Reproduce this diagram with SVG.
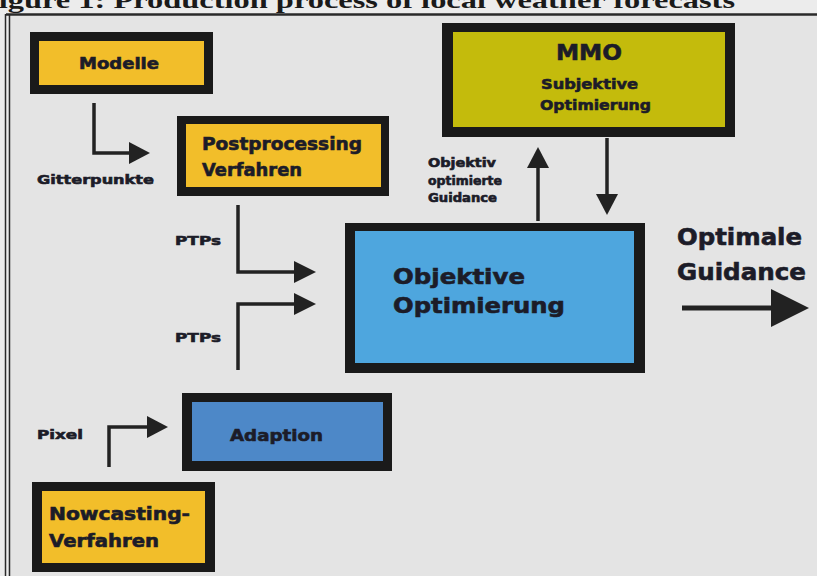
<svg xmlns="http://www.w3.org/2000/svg" width="817" height="576" viewBox="0 0 817 576">
  <defs>
    <style>
      .lbl { font-family: "DejaVu Sans", "Liberation Sans", Arial, sans-serif; font-weight: bold; fill: #1c1c28; stroke: #1c1c28; stroke-width: 0.6; }
      .frame { fill: #1a1a1a; }
      .wire { fill: none; stroke: #222; stroke-width: 3.5; }
      .head { fill: #222; }
      .yellow { fill: #f2be2a; }
      .olive { fill: #c4bb0c; }
      .sky { fill: #4ea6de; }
      .steel { fill: #4d88c8; }
    </style>
  </defs>

  <!-- page background -->
  <rect x="0" y="0" width="817" height="576" fill="#ececec"/>
  <rect x="8" y="15" width="809" height="561" fill="#e4e4e4"/>

  <!-- caption, cut at the top edge -->
  <text x="-21" y="8" font-family="'Liberation Serif', 'Times New Roman', serif" font-weight="bold" font-size="24" fill="#1a1a1a" textLength="756" lengthAdjust="spacingAndGlyphs">Figure 1: Production process of local weather forecasts</text>

  <!-- border lines -->
  <line x1="6" y1="14.5" x2="817" y2="14.5" stroke="#2a2a2a" stroke-width="2.5"/>
  <line x1="5.5" y1="14" x2="5.5" y2="576" stroke="#2a2a2a" stroke-width="1.5"/>
  <line x1="9.5" y1="14" x2="9.5" y2="576" stroke="#2a2a2a" stroke-width="1.5"/>

  <!-- connectors -->
  <g id="connectors">
    <!-- Modelle to Postprocessing -->
    <polyline class="wire" points="94,103 94,153 132,153"/>
    <polygon class="head" points="129,142 150,153 129,164"/>
    <!-- Postprocessing to Objektive Optimierung -->
    <polyline class="wire" points="238,205 238,272 296,272"/>
    <polygon class="head" points="294,261 316,272 294,283"/>
    <!-- Adaption to Objektive Optimierung -->
    <polyline class="wire" points="238,370 238,304 296,304"/>
    <polygon class="head" points="294,293 316,304 294,315"/>
    <!-- Nowcasting to Adaption -->
    <polyline class="wire" points="109,467 109,427 150,427"/>
    <polygon class="head" points="147,416 168,427 147,438"/>
    <!-- Objektive Optimierung up to MMO -->
    <line class="wire" x1="538" y1="221" x2="538" y2="165"/>
    <polygon class="head" points="527,168 538,147 549,168"/>
    <!-- MMO down to Objektive Optimierung -->
    <line class="wire" x1="607" y1="138" x2="607" y2="197"/>
    <polygon class="head" points="596,194 607,215 618,194"/>
    <!-- final output -->
    <line x1="682" y1="308" x2="776" y2="308" stroke="#222" stroke-width="5"/>
    <polygon class="head" points="771,289 809,308 771,327"/>
  </g>

  <!-- edge labels -->
  <g id="edge-labels">
    <text class="lbl" x="37" y="184" font-size="12.5" textLength="117" lengthAdjust="spacingAndGlyphs">Gitterpunkte</text>
    <text class="lbl" x="175" y="245" font-size="12.5" textLength="46" lengthAdjust="spacingAndGlyphs">PTPs</text>
    <text class="lbl" x="175" y="342" font-size="12.5" textLength="46" lengthAdjust="spacingAndGlyphs">PTPs</text>
    <text class="lbl" x="37" y="439" font-size="12.5" textLength="46" lengthAdjust="spacingAndGlyphs">Pixel</text>
    <text class="lbl" x="428" y="167" font-size="11.5" textLength="68" lengthAdjust="spacingAndGlyphs">Objektiv</text>
    <text class="lbl" x="428" y="185" font-size="11.5" textLength="74" lengthAdjust="spacingAndGlyphs">optimierte</text>
    <text class="lbl" x="428" y="202" font-size="11.5" textLength="69" lengthAdjust="spacingAndGlyphs">Guidance</text>
    <text class="lbl" x="677" y="245" font-size="23" textLength="125" lengthAdjust="spacingAndGlyphs">Optimale</text>
    <text class="lbl" x="677" y="280" font-size="23" textLength="129" lengthAdjust="spacingAndGlyphs">Guidance</text>
  </g>

  <g id="modelle">
    <rect class="frame" x="30" y="32" width="183" height="62"/>
    <rect class="yellow" x="39" y="41" width="165" height="44"/>
    <text class="lbl" x="79" y="69" font-size="15" textLength="80" lengthAdjust="spacingAndGlyphs">Modelle</text>
  </g>

  <g id="postprocessing">
    <rect class="frame" x="177" y="116" width="212" height="80"/>
    <rect class="yellow" x="186" y="124" width="195" height="63"/>
    <text class="lbl" x="202" y="150" font-size="17.5" textLength="160" lengthAdjust="spacingAndGlyphs">Postprocessing</text>
    <text class="lbl" x="202" y="176" font-size="17.5" textLength="100" lengthAdjust="spacingAndGlyphs">Verfahren</text>
  </g>

  <g id="mmo">
    <rect class="frame" x="442" y="23" width="293" height="114"/>
    <rect class="olive" x="453" y="32" width="272" height="95"/>
    <text class="lbl" x="556" y="60" font-size="22" textLength="66" lengthAdjust="spacingAndGlyphs">MMO</text>
    <text class="lbl" x="541" y="89" font-size="14" textLength="97" lengthAdjust="spacingAndGlyphs">Subjektive</text>
    <text class="lbl" x="540" y="110" font-size="14" textLength="111" lengthAdjust="spacingAndGlyphs">Optimierung</text>
  </g>

  <g id="objektive-optimierung">
    <rect class="frame" x="345" y="223" width="300" height="150"/>
    <rect class="sky" x="355" y="231" width="279" height="132"/>
    <text class="lbl" x="393" y="284" font-size="21" textLength="132" lengthAdjust="spacingAndGlyphs">Objektive</text>
    <text class="lbl" x="393" y="313" font-size="21" textLength="172" lengthAdjust="spacingAndGlyphs">Optimierung</text>
  </g>

  <g id="adaption">
    <rect class="frame" x="182" y="393" width="210" height="78"/>
    <rect class="steel" x="192" y="402" width="191" height="59"/>
    <text class="lbl" x="230" y="441" font-size="16" textLength="93" lengthAdjust="spacingAndGlyphs">Adaption</text>
  </g>

  <g id="nowcasting">
    <rect class="frame" x="32" y="482" width="183" height="90"/>
    <rect class="yellow" x="42" y="491" width="163" height="72"/>
    <text class="lbl" x="49" y="520" font-size="17" textLength="141" lengthAdjust="spacingAndGlyphs">Nowcasting-</text>
    <text class="lbl" x="49" y="547" font-size="17" textLength="110" lengthAdjust="spacingAndGlyphs">Verfahren</text>
  </g>
</svg>
